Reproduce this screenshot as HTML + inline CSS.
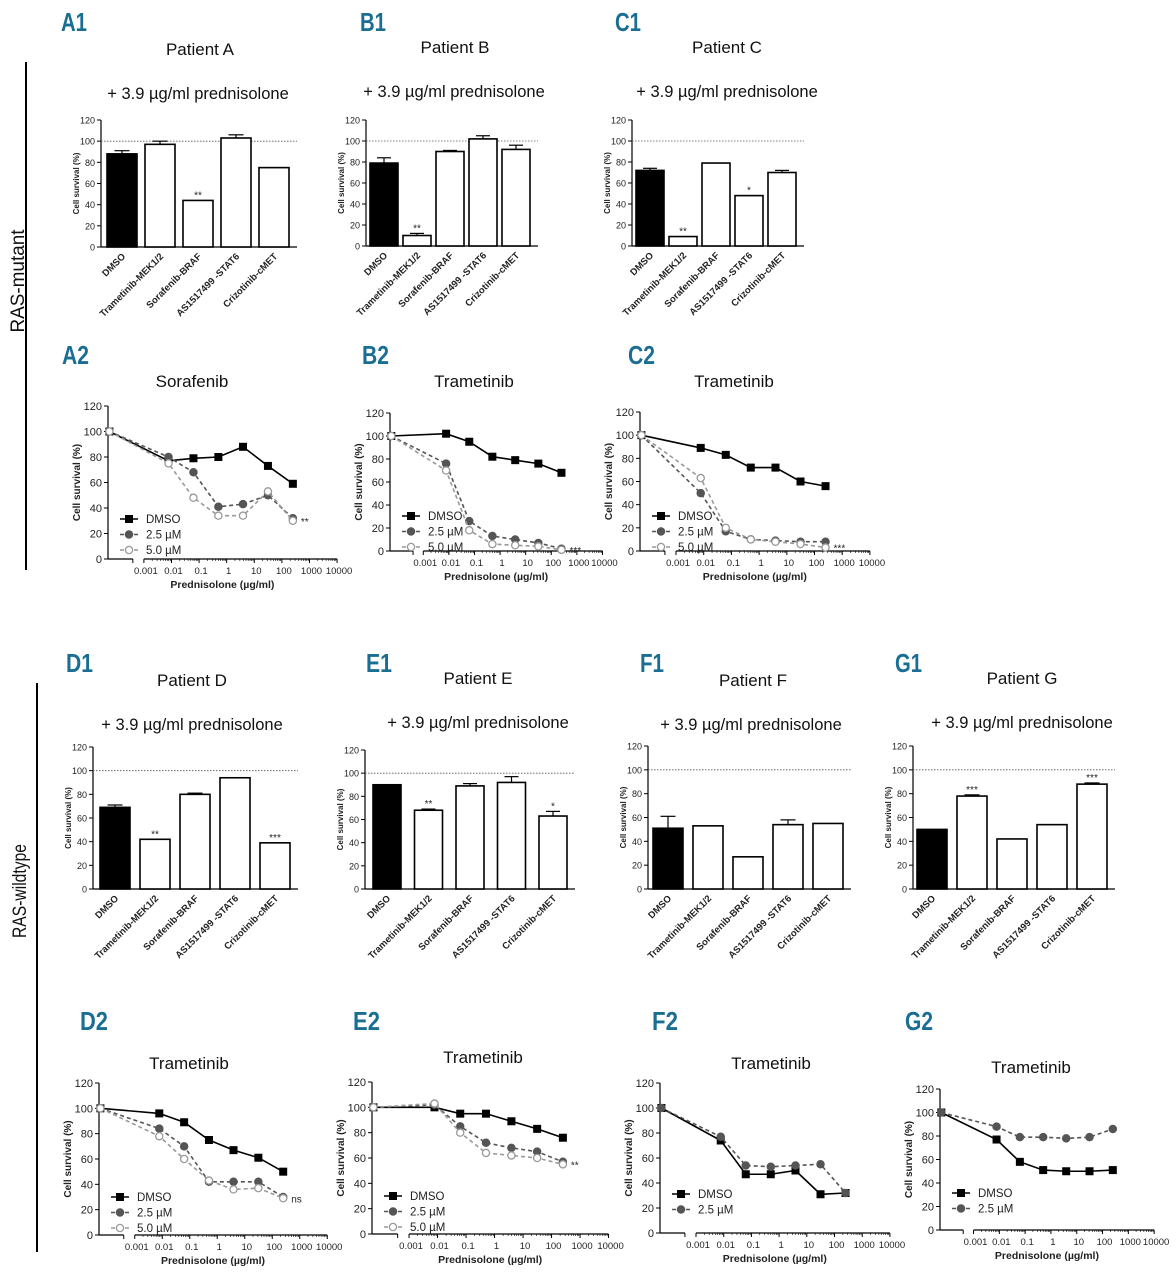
<!DOCTYPE html>
<html><head><meta charset="utf-8"><style>
html,body{margin:0;padding:0;background:#fff;}
svg{display:block;font-family:"Liberation Sans",Arial,sans-serif;}
.pl{font-family:"Liberation Sans Narrow","Liberation Sans",sans-serif;font-weight:bold;fill:#1b6e93;font-size:26px;}
.tt{font-size:17px;fill:#111;}
.st{font-size:16.5px;fill:#111;}
</style></head><body>
<svg id="fig" width="1176" height="1280" viewBox="0 0 1176 1280" xmlns="http://www.w3.org/2000/svg">
<text class="pl" x="61" y="31" textLength="26" lengthAdjust="spacingAndGlyphs">A1</text>
<text class="pl" x="360" y="31" textLength="26" lengthAdjust="spacingAndGlyphs">B1</text>
<text class="pl" x="615" y="31" textLength="26" lengthAdjust="spacingAndGlyphs">C1</text>
<text class="pl" x="62" y="364" textLength="27" lengthAdjust="spacingAndGlyphs">A2</text>
<text class="pl" x="362" y="364" textLength="27" lengthAdjust="spacingAndGlyphs">B2</text>
<text class="pl" x="628" y="364" textLength="27" lengthAdjust="spacingAndGlyphs">C2</text>
<text class="pl" x="66" y="672" textLength="27" lengthAdjust="spacingAndGlyphs">D1</text>
<text class="pl" x="366" y="672" textLength="26" lengthAdjust="spacingAndGlyphs">E1</text>
<text class="pl" x="640" y="672" textLength="24" lengthAdjust="spacingAndGlyphs">F1</text>
<text class="pl" x="895" y="672" textLength="27" lengthAdjust="spacingAndGlyphs">G1</text>
<text class="pl" x="80" y="1030" textLength="28" lengthAdjust="spacingAndGlyphs">D2</text>
<text class="pl" x="353" y="1030" textLength="27" lengthAdjust="spacingAndGlyphs">E2</text>
<text class="pl" x="652" y="1030" textLength="26" lengthAdjust="spacingAndGlyphs">F2</text>
<text class="pl" x="905" y="1030" textLength="28" lengthAdjust="spacingAndGlyphs">G2</text>

<text class="tt" x="200" y="55" text-anchor="middle">Patient A</text>
<text class="st" x="198" y="99" text-anchor="middle">+ 3.9 µg/ml prednisolone</text>
<text class="tt" x="455" y="53" text-anchor="middle">Patient B</text>
<text class="st" x="454" y="97" text-anchor="middle">+ 3.9 µg/ml prednisolone</text>
<text class="tt" x="727" y="53" text-anchor="middle">Patient C</text>
<text class="st" x="727" y="97" text-anchor="middle">+ 3.9 µg/ml prednisolone</text>
<text class="tt" x="192" y="686" text-anchor="middle">Patient D</text>
<text class="st" x="192" y="730" text-anchor="middle">+ 3.9 µg/ml prednisolone</text>
<text class="tt" x="478" y="684" text-anchor="middle">Patient E</text>
<text class="st" x="478" y="728" text-anchor="middle">+ 3.9 µg/ml prednisolone</text>
<text class="tt" x="753" y="686" text-anchor="middle">Patient F</text>
<text class="st" x="751" y="730" text-anchor="middle">+ 3.9 µg/ml prednisolone</text>
<text class="tt" x="1022" y="684" text-anchor="middle">Patient G</text>
<text class="st" x="1022" y="728" text-anchor="middle">+ 3.9 µg/ml prednisolone</text>

<text class="tt" x="192" y="387" text-anchor="middle">Sorafenib</text>
<text class="tt" x="474" y="387" text-anchor="middle">Trametinib</text>
<text class="tt" x="734" y="387" text-anchor="middle">Trametinib</text>
<text class="tt" x="189" y="1069" text-anchor="middle">Trametinib</text>
<text class="tt" x="483" y="1063" text-anchor="middle">Trametinib</text>
<text class="tt" x="771" y="1069" text-anchor="middle">Trametinib</text>
<text class="tt" x="1031" y="1073" text-anchor="middle">Trametinib</text>

<line x1="26" y1="62" x2="26" y2="570" stroke="#000" stroke-width="2"/>
<text transform="translate(24,281) rotate(-90)" text-anchor="middle" font-size="19" fill="#111" textLength="103" lengthAdjust="spacingAndGlyphs">RAS-mutant</text>
<line x1="37" y1="683" x2="37" y2="1252" stroke="#000" stroke-width="2"/>
<text transform="translate(26,891) rotate(-90)" text-anchor="middle" font-size="19" fill="#111" textLength="94" lengthAdjust="spacingAndGlyphs">RAS-wildtype</text>
<g id="charts"></g>
</svg>
<script>
// ---- bar chart data ----
const categories = ["DMSO","Trametinib-MEK1/2","Sorafenib-BRAF","AS1517499 -STAT6","Crizotinib-cMET"];
const yTicks = [0,20,40,60,80,100,120];
const barA = [88,97,44,103,75];   const errA = [3,3,0,3,0];   const starA = ["","","**","",""];
const barB = [79,10,90,102,92];   const errB = [5,2,1,3,4];   const starB = ["","**","","",""];
const barC = [72,9,79,48,70];     const errC = [2,0,0,0,2];   const starC = ["","**","","*",""];
const barD = [69,42,80,94,39];    const errD = [2,0,1,0,0];   const starD = ["","**","","","***"];
const barE = [90,68,89,92,63];    const errE = [0,1,2,5,4];   const starE = ["","**","","","*"];
const barF = [51,53,27,54,55];    const errF = [10,0,0,4,0];  const starF = ["","","","",""];
const barG = [50,78,42,54,88];    const errG = [0,1,0,0,1];   const starG = ["","***","","","***"];
// ---- dose-response data ----
const doses = [0.0000563,0.0078,0.0625,0.5,3.9,31.25,250];
const xTickLabels = ["0.001","0.01","0.1","1","10","100","1000","10000"];
const a2Dmso = [100,77,79,80,88,73,59]; const a2Low = [100,80,68,41,43,50,32]; const a2High = [100,75,48,34,34,53,30];
const b2Dmso = [100,102,95,82,79,76,68]; const b2Low = [100,76,26,13,10,7,2]; const b2High = [100,70,18,6,5,4,1];
const c2Dmso = [100,89,83,72,72,60,56]; const c2Low = [100,50,17,10,9,8,8]; const c2High = [100,63,20,10,8,6,3];
const d2Dmso = [100,96,89,75,67,61,50]; const d2Low = [100,84,70,42,42,42,30]; const d2High = [100,78,60,43,36,37,29];
const e2Dmso = [100,100,95,95,89,83,76]; const e2Low = [100,102,85,72,68,65,57]; const e2High = [100,103,80,64,62,60,55];
const f2Dmso = [100,74,47,47,50,31,32]; const f2Low = [100,77,54,53,54,55,32];
const g2Dmso = [100,77,58,51,50,50,51]; const g2Low = [100,88,79,79,78,79,86];

const NS="http://www.w3.org/2000/svg";
const root=document.getElementById('charts');
function mk(parent,tag,attrs,name,txt){
  const e=document.createElementNS(NS,tag);
  for(const k in attrs) e.setAttribute(k,attrs[k]);
  
  
  if(txt!==undefined) e.textContent=txt;
  parent.appendChild(e); return e;
}
function yAxis(g,ax,y0,y120,yS,big){
  mk(g,'line',{x1:ax,y1:y0,x2:ax,y2:y120,stroke:'#000','stroke-width':1.2},'y-axis-line');
  yTicks.forEach(t=>{
    mk(g,'line',{x1:ax-4,y1:yS(t),x2:ax,y2:yS(t),stroke:'#000','stroke-width':1},'y-tick');
    mk(g,'text',{x:ax-6,y:yS(t)+(big?4:3.5),'text-anchor':'end','font-size':big?11:9,fill:'#222'},'y-tick-label',String(t));
  });
  const mid=(y0+y120)/2;
  mk(g,'text',{transform:`translate(${ax-(big?28:22)},${mid}) rotate(-90)`,'text-anchor':'middle','font-size':big?10:8,'font-weight':'bold',fill:'#222'},'y-axis-title','Cell survival (%)');
}
function drawBar(name,ax,y0,y120,c0,step,w,vals,errs,stars){
  const g=mk(root,'g',{},name);
  const yS=v=>y0-v*(y0-y120)/120;
  yAxis(g,ax,y0,y120,yS,false);
  const right=c0+step*4+w/2+8;
  mk(g,'line',{x1:ax,y1:y0,x2:right,y2:y0,stroke:'#000','stroke-width':1.2},'x-axis-line');
  mk(g,'line',{x1:ax,y1:yS(100),x2:right,y2:yS(100),stroke:'#555','stroke-width':0.8,'stroke-dasharray':'1.5,1.5'},'reference-line-100');
  vals.forEach((v,i)=>{
    const c=c0+step*i;
    mk(g,'rect',{x:c-w/2,y:yS(v),width:w,height:y0-yS(v),fill:i===0?'#000':'#fff',stroke:'#000','stroke-width':1.6},'bar-'+categories[i].toLowerCase().replace(/[^a-z0-9]+/g,'-'));
    if(errs[i]>0){
      mk(g,'line',{x1:c,y1:yS(v),x2:c,y2:yS(v+errs[i]),stroke:'#000','stroke-width':1.2},'error-bar');
      mk(g,'line',{x1:c-w/4,y1:yS(v+errs[i]),x2:c+w/4,y2:yS(v+errs[i]),stroke:'#000','stroke-width':1.2},'error-cap');
    }
    if(stars[i]) mk(g,'text',{x:c,y:yS(v+errs[i])-2,'text-anchor':'middle','font-size':10,fill:'#222'},'significance-mark',stars[i]);
    mk(g,'text',{transform:`translate(${c+4},${y0+10}) rotate(-45)`,'text-anchor':'end','font-size':9.5,'font-weight':'bold',fill:'#222'},'category-label',categories[i]);
  });
}
function drawLine(name,ax,y0,y120,D,series,legY,star){
  const g=mk(root,'g',{},name);
  const yS=v=>y0-v*(y0-y120)/120;
  const xS=d=>ax+(Math.log10(d)+4.3)*D;
  yAxis(g,ax,y0,y120,yS,true);
  mk(g,'line',{x1:ax,y1:y0,x2:ax+0.9*D,y2:y0,stroke:'#000','stroke-width':1.2},'x-axis-line-break');
  mk(g,'line',{x1:ax+0.9*D,y1:y0,x2:ax+0.9*D,y2:y0+4,stroke:'#000','stroke-width':1},'x-tick');
  mk(g,'line',{x1:xS(0.001),y1:y0,x2:xS(10000),y2:y0,stroke:'#000','stroke-width':1.2},'x-axis-line');
  xTickLabels.forEach((lab,i)=>{
    const x=xS(Math.pow(10,i-3));
    mk(g,'line',{x1:x,y1:y0,x2:x,y2:y0+4,stroke:'#000','stroke-width':1},'x-tick');
    if(i<7) for(let m=2;m<10;m++){const xm=xS(m*Math.pow(10,i-3));
      mk(g,'line',{x1:xm,y1:y0,x2:xm,y2:y0+2,stroke:'#000','stroke-width':0.6},'x-minor-tick');}
    mk(g,'text',{x:x+2,y:y0+15,'text-anchor':'middle','font-size':9.5,fill:'#222'},'x-tick-label',lab);
  });
  mk(g,'text',{x:xS(0.7),y:y0+29,'text-anchor':'middle','font-size':10.5,'font-weight':'bold',fill:'#222'},'x-axis-title','Prednisolone (µg/ml)');
  series.forEach((s,si)=>{
    const pts=s.v.map((v,i)=>xS(doses[i])+','+yS(v)).join(' ');
    mk(g,'polyline',{points:pts,fill:'none',stroke:s.c,'stroke-width':1.6,'stroke-dasharray':s.dash||'none'},'series-line-'+s.n);
    s.v.forEach((v,i)=>{
      const x=xS(doses[i]),y=yS(v);
      if(s.m==='sq') mk(g,'rect',{x:x-4,y:y-4,width:8,height:8,fill:'#000'},'point-'+s.n);
      else mk(g,'circle',{cx:x,cy:y,r:3.6,fill:s.m==='open'?'#fff':s.c,stroke:s.c,'stroke-width':1.3},'point-'+s.n);
    });
    const ly=legY+si*15.5, lx=ax+12;
    mk(g,'line',{x1:lx,y1:ly,x2:lx+18,y2:ly,stroke:s.c,'stroke-width':1.6,'stroke-dasharray':s.dash||'none'},'legend-line-'+s.n);
    if(s.m==='sq') mk(g,'rect',{x:lx+5,y:ly-4,width:8,height:8,fill:'#000'},'legend-marker-'+s.n);
    else mk(g,'circle',{cx:lx+9,cy:ly,r:3.6,fill:s.m==='open'?'#fff':s.c,stroke:s.c,'stroke-width':1.3},'legend-marker-'+s.n);
    mk(g,'text',{x:lx+26,y:ly+4,'font-size':11.5,fill:'#222'},'legend-label-'+s.n,s.label);
  });
  if(star){
    const last=series[series.length-1].v[6];
    mk(g,'text',{x:xS(250)+8,y:yS(last)+4,'font-size':10,fill:'#222'},'significance-mark',star);
  }
}
const S=(v,kind)=>kind==='d'?{v:v,c:'#000',m:'sq',label:'DMSO',n:'dmso'}:kind==='l'?{v:v,c:'#555',m:'fill',dash:'4,3',label:'2.5 µM',n:'2-5um'}:{v:v,c:'#999',m:'open',dash:'4,3',label:'5.0 µM',n:'5-0um'};

drawBar('bar-chart-a1',101,247,120,122,38,30,barA,errA,starA);
drawBar('bar-chart-b1',366,246,120,384,33,28,barB,errB,starB);
drawBar('bar-chart-c1',632,246,120,650,33,28,barC,errC,starC);
drawBar('bar-chart-d1',93,889,747,115,40,30,barD,errD,starD);
drawBar('bar-chart-e1',365,889,750,387,41.5,28,barE,errE,starE);
drawBar('bar-chart-f1',648,889,746,668,40,30,barF,errF,starF);
drawBar('bar-chart-g1',913,889,746,932,40,30,barG,errG,starG);

drawLine('line-chart-a2',108,559,406,27.6,[S(a2Dmso,'d'),S(a2Low,'l'),S(a2High,'h')],519,'**');
drawLine('line-chart-b2',390,551,413,25.6,[S(b2Dmso,'d'),S(b2Low,'l'),S(b2High,'h')],516,'***');
drawLine('line-chart-c2',640,551,412,27.7,[S(c2Dmso,'d'),S(c2Low,'l'),S(c2High,'h')],516,'***');
drawLine('line-chart-d2',99,1235,1083,27.5,[S(d2Dmso,'d'),S(d2Low,'l'),S(d2High,'h')],1197,'ns');
drawLine('line-chart-e2',372,1234,1082,28.5,[S(e2Dmso,'d'),S(e2Low,'l'),S(e2High,'h')],1196,'**');
drawLine('line-chart-f2',660,1233,1083,27.7,[S(f2Dmso,'d'),S(f2Low,'l')],1194,'');
drawLine('line-chart-g2',940,1230,1089,25.8,[S(g2Dmso,'d'),S(g2Low,'l')],1193,'');
</script>
</body></html>
